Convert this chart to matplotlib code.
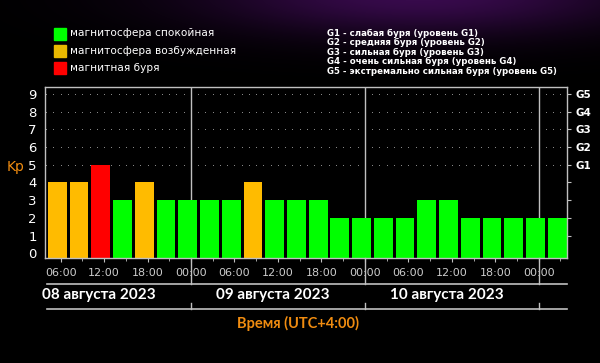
import matplotlib
matplotlib.use("Agg")
import matplotlib.pyplot as plt
import matplotlib.transforms as mtransforms
import numpy as np

# Kp-индекс, интервалы по 3 часа, начиная с 06:00 08.08.2023 (часы от 00:00 08.08)
hours = [6 + 3 * i for i in range(24)]
kp = [4, 4, 5, 3, 4, 3, 3, 3, 3, 4, 3, 3, 3, 2, 2, 2, 2, 3, 3, 2, 2, 2, 2, 2]
xtick_hours = [6, 12, 18, 24, 30, 36, 42, 48, 54, 60, 66, 72]
xtick_labels = ['06:00', '12:00', '18:00', '00:00'] * 3
day_starts = [0, 24, 48]
day_labels = ['08 августа 2023', '09 августа 2023', '10 августа 2023']
g_levels = [5, 6, 7, 8, 9]
g_labels = ['G1', 'G2', 'G3', 'G4', 'G5']
legend_left = ['магнитосфера спокойная', 'магнитосфера возбужденная', 'магнитная буря']
legend_right = ['G1 - слабая буря (уровень G1)',
                'G2 - средняя буря (уровень G2)',
                'G3 - сильная буря (уровень G3)',
                'G4 - очень сильная буря (уровень G4)',
                'G5 - экстремально сильная буря (уровень G5)']

GREEN = '#00ff00'
YELLOW = '#ffbb00'
RED = '#ff0000'
FRAME = '#c0c0c0'
ORANGE = '#f08c10'


def bar_color(v):
    if v >= 5:
        return RED
    if v == 4:
        return YELLOW
    return GREEN


fig = plt.figure(figsize=(6, 3.63), dpi=100, facecolor='black')

# фиолетовое свечение сверху
bg = fig.add_axes([0, 0, 1, 1], zorder=-10)
bg.axis('off')
yy, xx = np.mgrid[0:363, 0:600]
glow = np.exp(-((xx - 420) / 220.0) ** 2 - ((yy + 5) / 40.0) ** 2)
img = np.zeros((363, 600, 3))
img[..., 0] = 0.22 * glow
img[..., 1] = 0.04 * glow
img[..., 2] = 0.30 * glow
bg.imshow(img, extent=[0, 600, 363, 0], aspect='auto')
bg.set_xlim(0, 600)
bg.set_ylim(363, 0)

ax = fig.add_axes([0.075, 0.2893, 0.87, 0.4717])
ax.set_facecolor('black')
ymin, ymax = -0.27, 9.41
ax.set_xlim(3.85, 75.9)
ax.set_ylim(ymin, ymax)

# точечная сетка
for lv in g_levels:
    ax.scatter(np.arange(4, 76), [lv] * 72, s=0.5, color='#909090', zorder=1, linewidths=0)

for d in day_starts[1:] + [72]:
    ax.axvline(d, color=FRAME, lw=1, zorder=1)

centers = np.array(hours) - 0.45
heights = np.array(kp) - ymin
ax.bar(centers, heights, bottom=ymin, width=2.6, color=[bar_color(v) for v in kp], zorder=2)

for s in ax.spines.values():
    s.set_color(FRAME)
    s.set_linewidth(1)

ax.set_yticks(range(10))
ax.set_yticklabels([str(i) for i in range(10)], color='white', fontsize=9.5)
ax.tick_params(axis='y', length=0, pad=6)

ax.set_xticks(xtick_hours)
ax.set_xticklabels(xtick_labels, color='#cccccc', fontsize=8)
ax.set_xticks(hours[1::2], minor=True)
ax.tick_params(axis='x', which='major', length=3, color=FRAME, pad=4)
ax.tick_params(axis='x', which='minor', length=2, color=FRAME)

ax2 = ax.twinx()
ax2.set_ylim(ymin, ymax)
ax2.set_yticks(range(1, 10))
ax2.set_yticklabels([''] * 4 + g_labels, color='white', fontsize=7.5, fontweight='bold')
ax2.tick_params(axis='y', length=3, color=FRAME, pad=3)
for s in ax2.spines.values():
    s.set_visible(False)

fig.text(7 / 600, 1 - 167 / 363, 'Kp', color=ORANGE, fontsize=10, va='center', ha='left')

# нижняя шкала дат
trans = mtransforms.blended_transform_factory(ax.transData, fig.transFigure)
y1 = 1 - 283.5 / 363
y2 = 1 - 309 / 363
yb = 1 - 258 / 363
for yl in (y1, y2):
    ax.plot([4.1, 75.9], [yl, yl], color=FRAME, lw=1.2, transform=trans, clip_on=False)
for d in day_starts[1:] + [72]:
    ax.plot([d, d], [yb, y1], color=FRAME, lw=1, transform=trans, clip_on=False)
    ax.plot([d, d], [y2 + 6 / 363, y2], color=FRAME, lw=1, transform=trans, clip_on=False)
for d, lab in zip(day_starts, day_labels):
    ax.text(d + 11.3, 1 - 295 / 363, lab, transform=trans, color='white', fontsize=11,
            fontweight='bold', family='Lato', ha='center', va='center')

fig.text(298 / 600, 1 - 323 / 363, 'Время (UTC+4:00)', color=ORANGE, fontsize=10.5,
         fontweight='bold', family='Lato', ha='center', va='center')

# легенды
for i, (lab, c) in enumerate(zip(legend_left, [GREEN, YELLOW, RED])):
    yc = 33.5 + 17.3 * i
    fig.patches.append(plt.Rectangle((54 / 600, 1 - (yc + 6) / 363), 12 / 600, 12 / 363,
                                     transform=fig.transFigure, color=c if c != YELLOW else '#e8b800'))
    fig.text(70 / 600, 1 - yc / 363, lab, color='white', fontsize=7.6, va='center', ha='left')

for i, lab in enumerate(legend_right):
    yc = 33 + 9.5 * i
    fig.text(327 / 600, 1 - yc / 363, lab, color='white', fontsize=6.2, fontweight='bold',
             va='center', ha='left')

fig.savefig('out.png', dpi=100, facecolor='black')
